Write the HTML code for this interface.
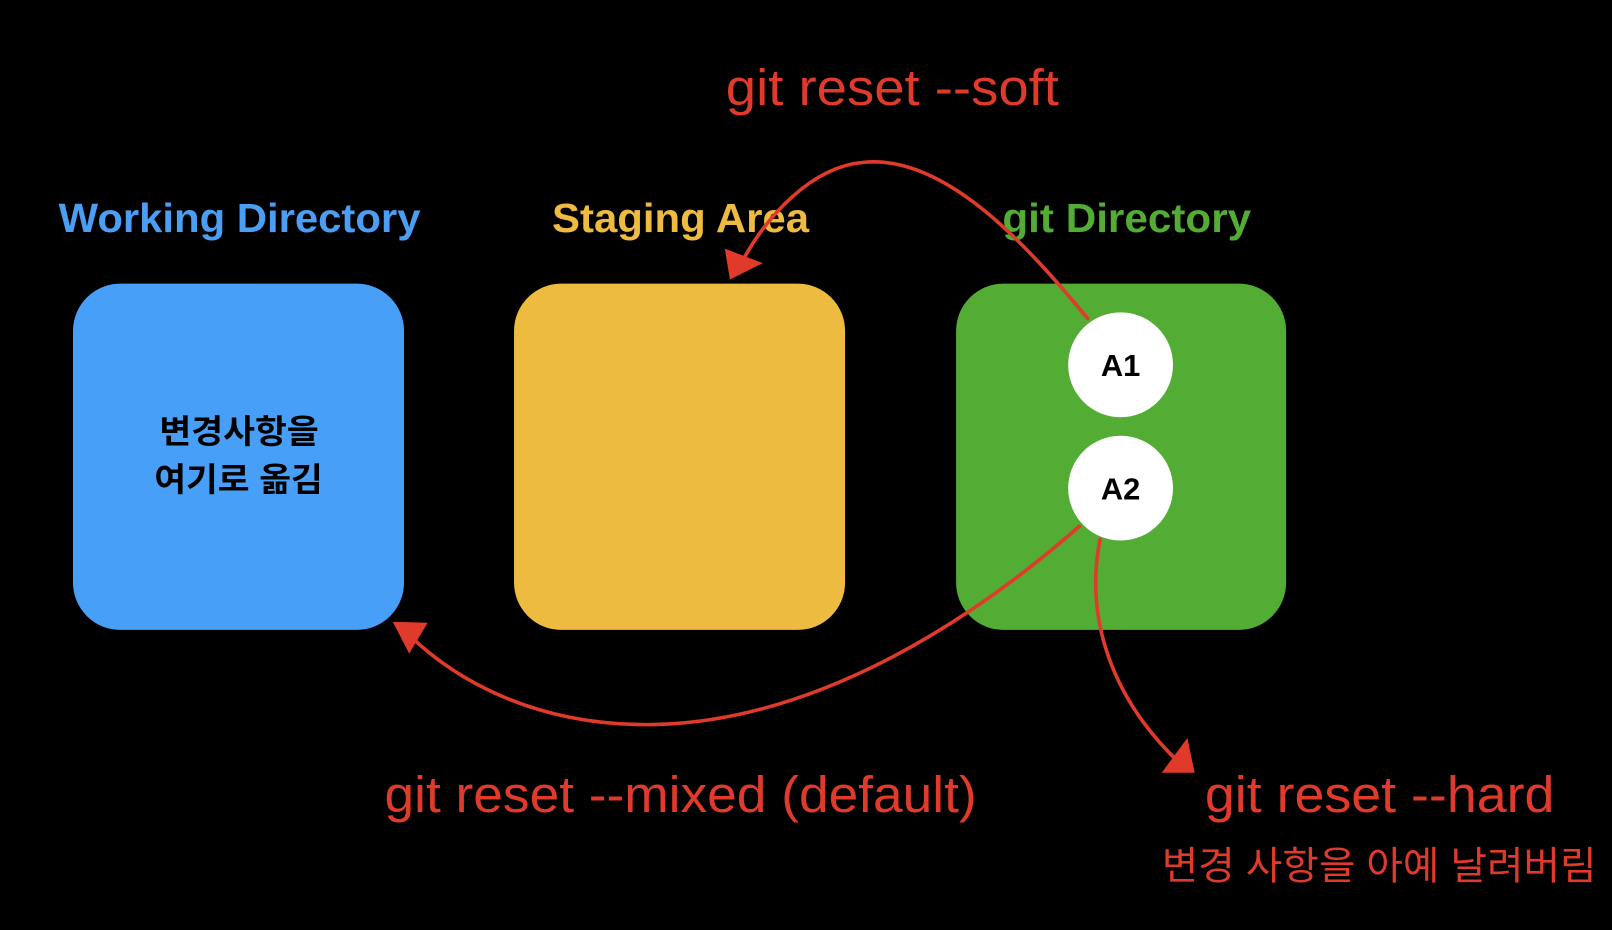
<!DOCTYPE html>
<html><head><meta charset="utf-8"><style>
html,body{margin:0;padding:0;background:#000;width:1612px;height:930px;overflow:hidden}
svg{display:block}
text{font-family:"Liberation Sans","Noto Sans CJK KR",sans-serif}
</style></head><body>
<svg width="1612" height="930" viewBox="0 0 1568 905" preserveAspectRatio="none">
<rect width="1568" height="905" fill="#000"/>
<rect x="71" y="276" width="322" height="337" rx="46" fill="#479ff7"/>
<rect x="500" y="276" width="322" height="337" rx="46" fill="#eebb41"/>
<rect x="930" y="276" width="321" height="337" rx="46" fill="#53ac34"/>
<text x="57" y="226" textLength="352" lengthAdjust="spacingAndGlyphs" font-size="40" font-weight="bold" fill="#4a9ff5">Working Directory</text>
<text x="537" y="226" textLength="250" lengthAdjust="spacingAndGlyphs" font-size="40" font-weight="bold" fill="#eebb41">Staging Area</text>
<text x="975" y="226" textLength="242" lengthAdjust="spacingAndGlyphs" font-size="40" font-weight="bold" fill="#53ac34">git Directory</text>
<text x="155" y="431" textLength="155" lengthAdjust="spacingAndGlyphs" font-size="32" font-weight="bold" fill="#000">변경사항을</text>
<text x="150" y="478" textLength="164" lengthAdjust="spacingAndGlyphs" font-size="32" font-weight="bold" fill="#000">여기로 옮김</text>
<circle cx="1090" cy="355" r="51" fill="#fff"/>
<circle cx="1090" cy="475" r="51" fill="#fff"/>
<text x="1090" y="366" text-anchor="middle" font-size="30" font-weight="bold" fill="#000">A1</text>
<text x="1090" y="486" text-anchor="middle" font-size="30" font-weight="bold" fill="#000">A2</text>
<g fill="none" stroke="#e03a2b" stroke-width="3.5" stroke-linecap="round">
<path d="M1058 310 C1000 240 920 150 840 158 C790 162 745 210 720 258"/>
<path d="M1050 512 C950 600 800 700 640 705 C520 708 440 660 395 615"/>
<path d="M1070 525 C1055 600 1080 680 1150 745"/>
</g>
<g fill="#e03a2b">
<polygon points="710,272 705,242 742,256"/>
<polygon points="382,605 416,606 398,636"/>
<polygon points="1162,752 1130,752 1155,718"/>
</g>
<g font-size="50" fill="#e03a2b">
<text x="706" y="102" textLength="324" lengthAdjust="spacingAndGlyphs">git reset --soft</text>
<text x="374" y="790" textLength="576" lengthAdjust="spacingAndGlyphs">git reset --mixed (default)</text>
<text x="1172" y="790" textLength="340" lengthAdjust="spacingAndGlyphs">git reset --hard</text>
</g>
<text x="1130" y="856" textLength="423" lengthAdjust="spacingAndGlyphs" font-size="38" fill="#e03a2b">변경 사항을 아예 날려버림</text>
</svg>
</body></html>
